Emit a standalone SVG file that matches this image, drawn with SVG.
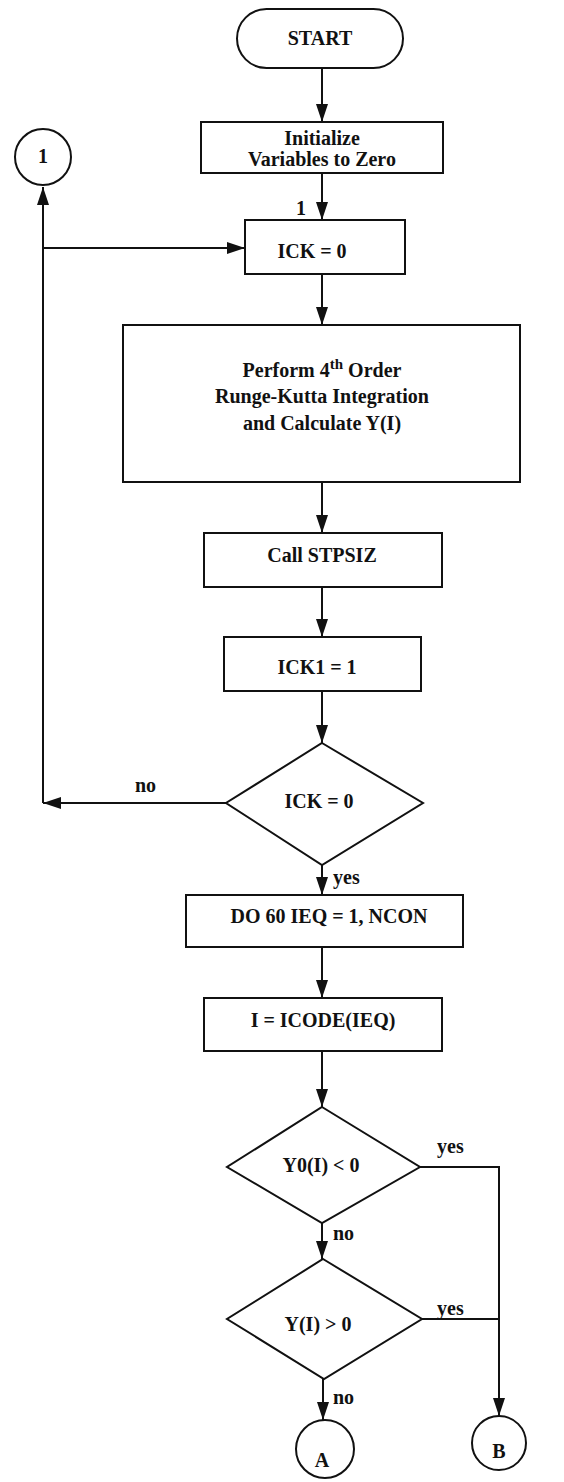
<svg xmlns="http://www.w3.org/2000/svg" width="564" height="1482" viewBox="0 0 564 1482">
<style>
.s{fill:#fff;stroke:#111;stroke-width:2}
.t{font-family:"Liberation Serif","Times New Roman",serif;font-weight:bold;font-size:20px;fill:#111;text-anchor:middle}
.l{font-family:"Liberation Serif","Times New Roman",serif;font-weight:bold;font-size:20px;fill:#111}
.c{fill:none;stroke:#111;stroke-width:2}
</style>
<defs>
<marker id="ah" viewBox="0 0 18 12" refX="18" refY="6" markerWidth="18" markerHeight="12" markerUnits="userSpaceOnUse" orient="auto">
<path d="M0,0 L18,6 L0,12 z" fill="#111"/>
</marker>
</defs>
<rect width="564" height="1482" fill="#fff"/>
<g id="connectors">
<path class="c" d="M322,68 V122" marker-end="url(#ah)"/>
<path class="c" d="M322,173 V220" marker-end="url(#ah)"/>
<path class="c" d="M322,274 V325" marker-end="url(#ah)"/>
<path class="c" d="M322,482 V533" marker-end="url(#ah)"/>
<path class="c" d="M322,587 V637" marker-end="url(#ah)"/>
<path class="c" d="M322,691 V743" marker-end="url(#ah)"/>
<path class="c" d="M226,803 H43" marker-end="url(#ah)"/>
<path class="c" d="M43,803 V187" marker-end="url(#ah)"/>
<path class="c" d="M43,248 H245" marker-end="url(#ah)"/>
<path class="c" d="M322,865 V895" marker-end="url(#ah)"/>
<path class="c" d="M322,947 V998" marker-end="url(#ah)"/>
<path class="c" d="M322,1051 V1107" marker-end="url(#ah)"/>
<path class="c" d="M420,1167 H499 V1416" marker-end="url(#ah)"/>
<path class="c" d="M322,1223 V1259" marker-end="url(#ah)"/>
<path class="c" d="M422,1319 H499"/>
<path class="c" d="M323,1379 V1420" marker-end="url(#ah)"/>
<text class="l" x="296" y="215">1</text>
<text class="l" x="135" y="792">no</text>
<text class="l" x="333" y="884">yes</text>
<text class="l" x="437" y="1153">yes</text>
<text class="l" x="333" y="1240">no</text>
<text class="l" x="437" y="1315">yes</text>
<text class="l" x="333" y="1404">no</text>
</g>
<g id="start">
<rect class="s" x="237" y="9" width="166" height="59" rx="29.5"/>
<text class="t" x="320" y="45">START</text>
</g>
<g id="init">
<rect class="s" x="201" y="122" width="242" height="51"/>
<text class="t" x="322" y="145">Initialize</text>
<text class="t" x="322" y="166">Variables to Zero</text>
</g>
<g id="conn1">
<circle class="s" cx="43" cy="157" r="28"/>
<text class="t" x="43" y="163">1</text>
</g>
<g id="ick0">
<rect class="s" x="245" y="220" width="160" height="54"/>
<text class="t" x="312" y="258">ICK = 0</text>
</g>
<g id="rk">
<rect class="s" x="123" y="325" width="397" height="157"/>
<text class="t" x="322" y="377">Perform 4<tspan font-size="15" dy="-8">th</tspan><tspan dy="8"> Order</tspan></text>
<text class="t" x="322" y="403">Runge-Kutta Integration</text>
<text class="t" x="322" y="430">and Calculate Y(I)</text>
</g>
<g id="stpsiz">
<rect class="s" x="204" y="533" width="238" height="54"/>
<text class="t" x="322" y="562">Call STPSIZ</text>
</g>
<g id="ick1">
<rect class="s" x="224" y="637" width="197" height="54"/>
<text class="t" x="317" y="674">ICK1 = 1</text>
</g>
<g id="dec1">
<polygon class="s" points="322,743 423,803 322,865 226,803"/>
<text class="t" x="319" y="808">ICK = 0</text>
</g>
<g id="do60">
<rect class="s" x="186" y="895" width="277" height="52"/>
<text class="t" x="329" y="923">DO 60 IEQ = 1, NCON</text>
</g>
<g id="icode">
<rect class="s" x="204" y="998" width="238" height="53"/>
<text class="t" x="323" y="1027">I = ICODE(IEQ)</text>
</g>
<g id="dec2">
<polygon class="s" points="322,1107 420,1167 322,1223 227,1167"/>
<text class="t" x="321" y="1172">Y0(I) &lt; 0</text>
</g>
<g id="dec3">
<polygon class="s" points="323,1259 422,1319 324,1379 227,1319"/>
<text class="t" x="318" y="1331">Y(I) &gt; 0</text>
</g>
<g id="connA">
<circle class="s" cx="325" cy="1449" r="29"/>
<text class="t" x="322" y="1467">A</text>
</g>
<g id="connB">
<circle class="s" cx="499" cy="1443" r="27"/>
<text class="t" x="499" y="1458">B</text>
</g>
</svg>
